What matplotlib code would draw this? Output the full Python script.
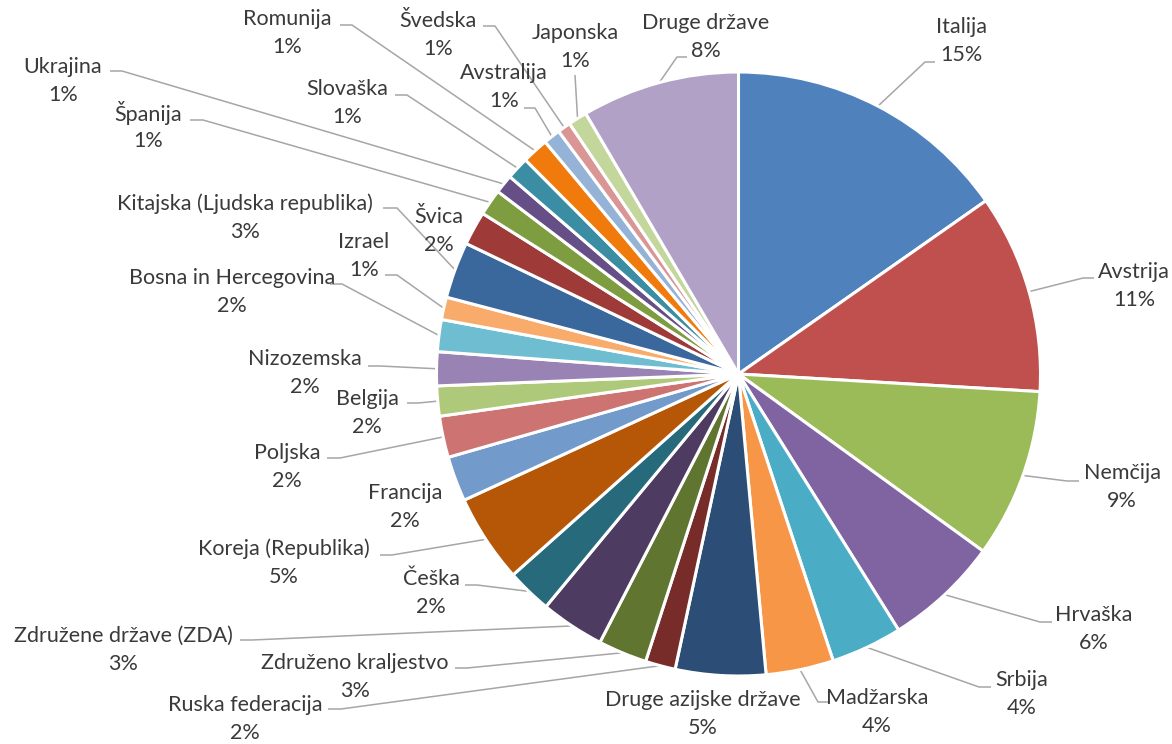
import numpy as np
import matplotlib.pyplot as plt

countries = ["Italija", "Avstrija", "Nemčija", "Hrvaška", "Srbija", "Madžarska",
             "Druge azijske države", "Ruska federacija", "Združeno kraljestvo",
             "Združene države (ZDA)", "Češka", "Koreja (Republika)", "Francija",
             "Poljska", "Belgija", "Nizozemska", "Bosna in Hercegovina", "Izrael",
             "Kitajska (Ljudska republika)", "Švica", "Španija", "Ukrajina",
             "Slovaška", "Romunija", "Avstralija", "Švedska", "Japonska",
             "Druge države"]
shares = [15.2, 10.6, 9.0, 6.1, 3.8, 3.6, 4.8, 1.6, 2.6, 3.4, 2.4, 4.7, 2.4,
          2.2, 1.6, 1.8, 1.7, 1.2, 3.0, 1.8, 1.4, 1.0, 1.2, 1.4, 0.9, 0.7, 1.0,
          8.4]

# Office 2010 series palette
colors = ["#4F81BD", "#C0504D", "#9BBB59", "#8064A2", "#4BACC6", "#F79646",
          "#2C4D75", "#772C2A", "#5F7530", "#4D3B62", "#276A7C", "#B65708",
          "#729ACA", "#CD7371", "#AFC97A", "#9983B5", "#6FBDD1", "#F9AB6B",
          "#3A679C", "#9E3A38", "#7E9C40", "#664F86", "#3A8DA3", "#F07A0C",
          "#95B3D7", "#D99694", "#C3D69B", "#B2A1C7"]

# label placement in pixels from the top-left corner (centre of the name line)
label_pos = [(961, 27), (1134, 272), (1122, 473), (1094, 615), (1022, 680),
             (877, 698), (703, 700), (245, 705), (355, 663), (123, 636),
             (431, 579), (284, 549), (405, 493), (287, 453), (367, 399),
             (305, 359), (232, 278), (364, 242), (245, 204), (439, 217),
             (148, 113), (63, 67), (347, 89), (287, 19), (504, 73),
             (438, 21), (575, 33), (706, 23)]

# leader line start and elbow next to each label (None = no leader)
leaders = [((935, 62), (925, 62)), ((1094, 278), (1083, 278)),
           ((1079, 481), (1067, 481)), ((1052, 622), (1040, 622)),
           ((991, 687), (979, 687)), ((830, 702), (818, 702)), None,
           ((328, 709), (341, 709)), ((455, 668), (467, 668)),
           ((240, 640), (252, 640)), ((465, 585), (477, 585)),
           ((380, 555), (392, 555)), None, ((327, 458), (340, 458)),
           ((407, 403), (418, 403)), ((368, 366), (380, 366)),
           ((330, 284), (342, 284)), ((385, 275), (397, 275)),
           ((383, 208), (397, 208)), None, ((190, 120), (203, 120)),
           ((110, 71), (122, 71)), ((395, 95), (407, 95)),
           ((340, 25), (352, 25)), ((524, 108), (535, 108)),
           ((483, 26), (495, 26)), ((575, 75), (575, 75)),
           ((687, 57), (677, 57))]

W, H = 1172, 744
fig = plt.figure(figsize=(W / 100, H / 100), dpi=100)
ax = fig.add_axes([0, 0, 1, 1])

cx, cy, r = 738.5, H - 374, 302
wedges, _ = ax.pie(shares, colors=colors, startangle=90, counterclock=False,
                   center=(cx, cy), radius=r,
                   wedgeprops=dict(edgecolor="white", linewidth=2.2))
ax.set_xlim(0, W)
ax.set_ylim(0, H)
ax.set_aspect("equal")
ax.axis("off")

total = sum(shares)
font = dict(family=["Lato", "DejaVu Sans"], fontsize=15.5, color="#3A3A3A")

for name, val, (lx, ly), wedge, lead in zip(countries, shares, label_pos,
                                             wedges, leaders):
    pct = f"{round(val / total * 100)}%"
    ax.text(lx, H - ly, name, ha="center", va="center", **font)
    ax.text(lx, H - ly - 28, pct, ha="center", va="center", **font)
    if lead is None:
        continue
    mid = np.deg2rad((wedge.theta1 + wedge.theta2) / 2)
    ex, ey = cx + r * np.cos(mid), cy + r * np.sin(mid)
    (sx, sy), (bx, by) = lead
    ax.plot([sx, bx, ex], [H - sy, H - by, ey], color="#A6A6A6", lw=1.1,
            zorder=0.5, solid_capstyle="butt")

fig.savefig("out.png", dpi=100)
